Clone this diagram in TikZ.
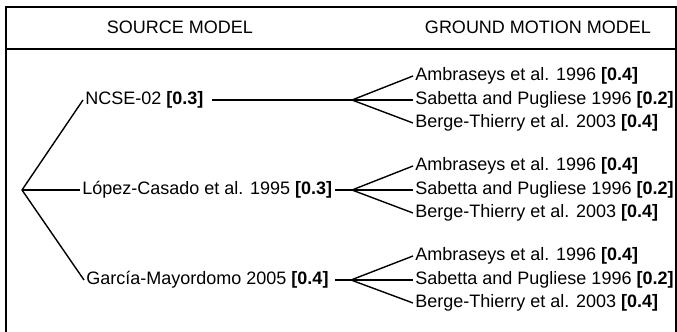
\documentclass[tikz,border=0pt]{standalone}
\usepackage{fontspec}
\setmainfont{Liberation Sans}

\begin{document}
\begin{tikzpicture}[x=0.5pt,y=-0.5pt,
  every node/.style={inner sep=1pt,font=\fontsize{9}{11}\selectfont},
  src/.style={anchor=west},
  gmm/.style={anchor=west},
  branch/.style={line width=0.7pt},
  frame/.style={line width=1pt}]
  \useasboundingbox (0,0) rectangle (677,332);

  % table frame, open at the bottom
  \draw[frame] (6,332) -- (6,7) -- (676,7) -- (676,332);
  \draw[frame] (6,49) -- (676,49);

  \node (hsrc) at (180,27) {SOURCE MODEL};
  \node (hgmm) at (538,27) {GROUND MOTION MODEL};

  % source models
  \coordinate (root) at (22,190);
  \node[src] (ncse) at (83,100) {NCSE-02 \textbf{[0.3]}};
  \node[src] (lopez) at (80,190) {López-Casado et al. 1995 \textbf{[0.3]}};
  \node[src] (garcia) at (84,280) {García-Mayordomo 2005 \textbf{[0.4]}};

  \draw[branch] (root) -- (ncse.west);
  \draw[branch] (root) -- (lopez.west);
  \draw[branch] (root) -- (garcia.west);

  \coordinate (f1) at (352,100);
  \coordinate (f2) at (352,190);
  \coordinate (f3) at (351,280);

  \draw[line width=0.9pt,shorten <=3pt] (ncse.east) -- (f1);
  \draw[branch] (lopez.east) -- (f2);
  \draw[branch,shorten <=2pt] (garcia.east) -- (f3);

  % ground motion models
  \foreach \g/\y in {1/100,2/190,3/280}{
    \node[gmm] (amb\g) at (413,\y-24) {Ambraseys et al. 1996 \textbf{[0.4]}};
    \node[gmm] (sab\g) at (413,\y) {Sabetta and Pugliese 1996 \textbf{[0.2]}};
    \node[gmm] (ber\g) at (413,\y+23) {Berge-Thierry et al. 2003 \textbf{[0.4]}};
    \draw[branch] (f\g) -- (amb\g.west);
    \draw[branch] (f\g) -- (sab\g.west);
    \draw[branch] (f\g) -- (ber\g.west);
  }
\end{tikzpicture}
\end{document}
